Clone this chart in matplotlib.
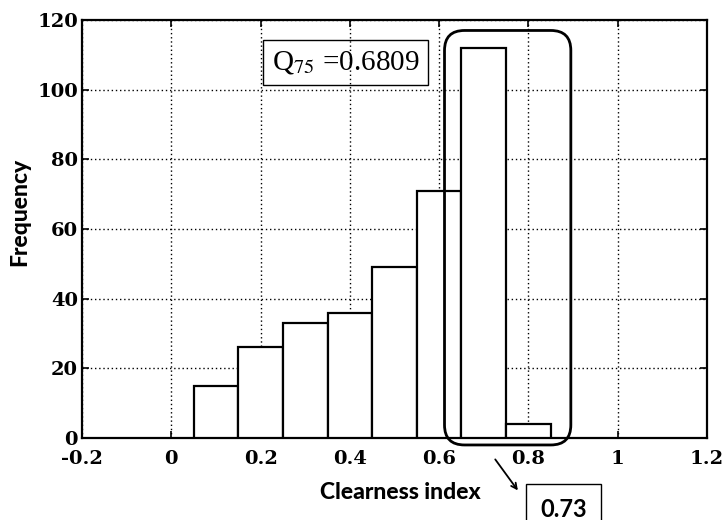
#!/usr/bin/env python3
import matplotlib
matplotlib.use("Agg")
import matplotlib.pyplot as plt
from matplotlib.patches import FancyBboxPatch

# histogram of clearness index
bin_left = [0.05, 0.15, 0.25, 0.35, 0.45, 0.55, 0.65, 0.75]
counts = [15, 26, 33, 36, 49, 71, 112, 4]
bin_width = 0.1

x_ticks = [-0.2, 0, 0.2, 0.4, 0.6, 0.8, 1, 1.2]
x_tick_labels = ["-0.2", "0", "0.2", "0.4", "0.6", "0.8", "1", "1.2"]
y_ticks = [0, 20, 40, 60, 80, 100, 120]

q75_text = "Q$_{75}$ =0.6809"
mode_text = "0.73"

plt.rcParams["axes.unicode_minus"] = False
plt.rcParams["mathtext.fontset"] = "stix"

fig = plt.figure(figsize=(7.24, 5.2), dpi=100)
ax = fig.add_axes([0.1133, 0.1577, 0.8632, 0.8038])

ax.bar(bin_left, counts, width=bin_width, align="edge",
       facecolor="white", edgecolor="black", linewidth=1.6, zorder=3)

ax.set_xlim(-0.2, 1.2)
ax.set_ylim(0, 120)
ax.set_xticks(x_ticks)
ax.set_xticklabels(x_tick_labels)
ax.set_yticks(y_ticks)
ax.grid(True, linestyle=(0, (1, 2)), color="black", linewidth=1.0, zorder=0)
ax.set_axisbelow(True)

ax.tick_params(direction="in", length=5, width=1.2, top=True, right=True)
ax.tick_params(axis="x", pad=9)
ax.tick_params(axis="y", pad=3)
for lab in ax.get_xticklabels() + ax.get_yticklabels():
    lab.set_fontfamily("DejaVu Serif")
    lab.set_fontweight("bold")
    lab.set_fontsize(14)
for sp in ax.spines.values():
    sp.set_linewidth(1.6)

ax.set_xlabel("Clearness index", fontfamily="Lato", fontweight="black",
              fontsize=16.5)
ax.set_ylabel("Frequency", fontfamily="Lato", fontweight="black",
              fontsize=16.5)
ax.xaxis.set_label_coords(0.51, -0.105)
ax.yaxis.set_label_coords(-0.083, 0.54)

# Q75 box
ax.text(0.391, 107.8, q75_text, ha="center", va="center",
        fontfamily="Liberation Serif", fontsize=21, zorder=5,
        bbox=dict(boxstyle="square,pad=0.3", facecolor="none",
                  edgecolor="black", linewidth=1.0))

# rounded frame around the modal bin
x_px = ax.transData.transform((1, 0))[0] - ax.transData.transform((0, 0))[0]
y_px = ax.transData.transform((0, 1))[1] - ax.transData.transform((0, 0))[1]
rad = 20 / x_px
frame = FancyBboxPatch((0.612 + rad, -2 + rad * x_px / y_px),
                       0.283 - 2 * rad, 119 - 2 * rad * x_px / y_px,
                       boxstyle="round,pad=%f,rounding_size=%f" % (rad, rad),
                       mutation_aspect=x_px / y_px,
                       facecolor="none", edgecolor="black", linewidth=2.0,
                       clip_on=False, zorder=6)
ax.add_patch(frame)

# arrow to modal value
ax.annotate("", xy=(0.780, -15.7), xytext=(0.722, -5.5),
            arrowprops=dict(arrowstyle="->", color="black", linewidth=1.3),
            annotation_clip=False)
ax.text(0.879, -20.5, mode_text, ha="center", va="center",
        fontfamily="Lato", fontweight="bold", fontsize=17, clip_on=False,
        bbox=dict(boxstyle="square,pad=0.6", facecolor="white",
                  edgecolor="black", linewidth=1.0))

fig.savefig("out.png", dpi=100)
